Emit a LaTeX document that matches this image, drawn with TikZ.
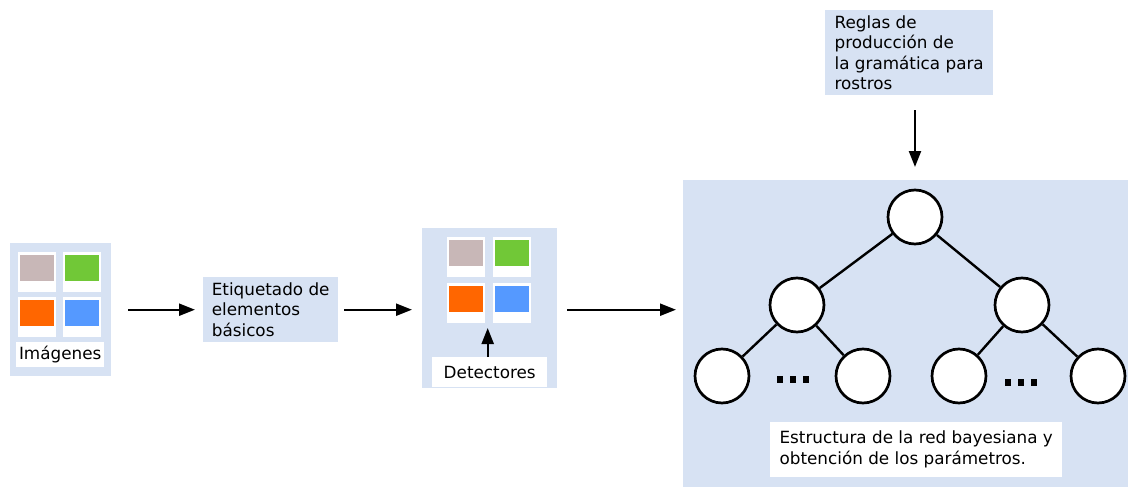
\documentclass[tikz,border=0pt]{standalone}
\usepackage{fontspec}
\setmainfont{DejaVu Sans}
\usetikzlibrary{arrows.meta}
\definecolor{panelbg}{HTML}{D7E2F3}
\definecolor{tilegray}{HTML}{C8B7B7}
\definecolor{tilegreen}{HTML}{71C837}
\definecolor{tileorange}{HTML}{FF6600}
\definecolor{tileblue}{HTML}{5599FF}

% a white picture tile with a coloured band on top
\newcommand{\phototile}[4]{%
  \node[tilebase, anchor=north west] (#1) at (#2,#3) {};
  \node[tileband, fill=#4, anchor=north] (#1band) at ([yshift=-2.5pt]#1.north) {};
}

\begin{document}
\begin{tikzpicture}[x=1pt,y=-1pt,
  panel/.style={fill=panelbg, draw=none, inner sep=0pt, anchor=north west},
  txtbox/.style={fill=panelbg, draw=none, inner xsep=0pt, inner ysep=0pt,
    align=left, anchor=north west, font=\fontsize{16.8}{20.5}\selectfont},
  whitebox/.style={fill=white, draw=none, inner sep=0pt, anchor=north west,
    align=left, font=\fontsize{16.8}{21}\selectfont},
  tilebase/.style={fill=white, draw=none, inner sep=0pt, minimum width=38pt, minimum height=40pt},
  tileband/.style={draw=none, inner sep=0pt, minimum width=34pt, minimum height=26pt},
  bnode/.style={circle, draw=black, fill=white, line width=2.7pt, minimum size=54pt, inner sep=0pt},
  edge/.style={line width=2.4pt, black},
  arr/.style={line width=2.2pt, -{Triangle[length=16pt, width=12pt]}},
  dotsq/.style={fill=black, draw=none, inner sep=0pt, minimum width=6pt, minimum height=7pt},
]
\useasboundingbox (0,0) rectangle (1128,487);

% --- input images ---
\node[panel, minimum width=101pt, minimum height=133pt] (imgs) at (10,243) {};
\phototile{ia}{18}{252}{tilegray}
\phototile{ib}{63}{252}{tilegreen}
\phototile{ic}{18}{297}{tileorange}
\phototile{id}{63}{297}{tileblue}
\node[whitebox, align=center, minimum width=88pt, minimum height=25pt] (imglabel) at (16,342) {Imágenes};

% --- labelling step ---
\node[txtbox, minimum width=135pt, minimum height=65pt] (etiq) at (203,277)
  {Etiquetado de\\elementos\\básicos};

% --- detectors ---
\node[panel, minimum width=135pt, minimum height=160pt] (det) at (422,228) {};
\phototile{da}{447}{237}{tilegray}
\phototile{db}{493}{237}{tilegreen}
\phototile{dc}{447}{283}{tileorange}
\phototile{dd}{493}{283}{tileblue}
\node[whitebox, align=center, minimum width=115pt, minimum height=30pt] (detlabel) at (432,357) {Detectores};

% --- grammar rules ---
\node[txtbox, minimum width=168pt, minimum height=85pt] (rules) at (825,10)
  {Reglas de\\producción de\\la gramática para\\rostros};

% --- bayesian network ---
\node[panel, minimum width=445pt, minimum height=307pt] (net) at (683,180) {};
\node[bnode] (root) at (915,217) {};
\node[bnode] (lm) at (797,305) {};
\node[bnode] (rm) at (1022,305) {};
\node[bnode] (l1) at (722,376) {};
\node[bnode] (l2) at (863,376) {};
\node[bnode] (l3) at (959,376) {};
\node[bnode] (l4) at (1098,376) {};
\draw[edge] (root) -- (lm);
\draw[edge] (root) -- (rm);
\draw[edge] (lm) -- (l1);
\draw[edge] (lm) -- (l2);
\draw[edge] (rm) -- (l3);
\draw[edge] (rm) -- (l4);
\node[dotsq] (da1) at (780,379) {};
\node[dotsq] (da2) at (793,379) {};
\node[dotsq] (da3) at (806,379) {};
\node[dotsq] (db1) at (1008,382) {};
\node[dotsq] (db2) at (1021,382) {};
\node[dotsq] (db3) at (1034,382) {};
\node[whitebox, minimum width=292pt, minimum height=55pt] (caption) at (770,422)
  {Estructura de la red bayesiana y\\obtención de los parámetros.};

% --- flow arrows ---
\draw[arr] ([xshift=17pt]imgs.east |- etiq.west) -- ([xshift=-8pt]etiq.west);
\draw[arr] ([xshift=6pt]etiq.east) -- ([xshift=-10pt]det.west |- etiq.west);
\draw[arr] ([xshift=10pt]det.east |- etiq.west) -- ([xshift=-7pt]net.west |- etiq.west);
\draw[arr] ([yshift=-15pt]rules.south -| root) -- ([yshift=13pt]net.north -| root);
\draw[arr] ([xshift=-2pt]detlabel.north) -- ([xshift=-2pt,yshift=29pt]detlabel.north);
\end{tikzpicture}
\end{document}
